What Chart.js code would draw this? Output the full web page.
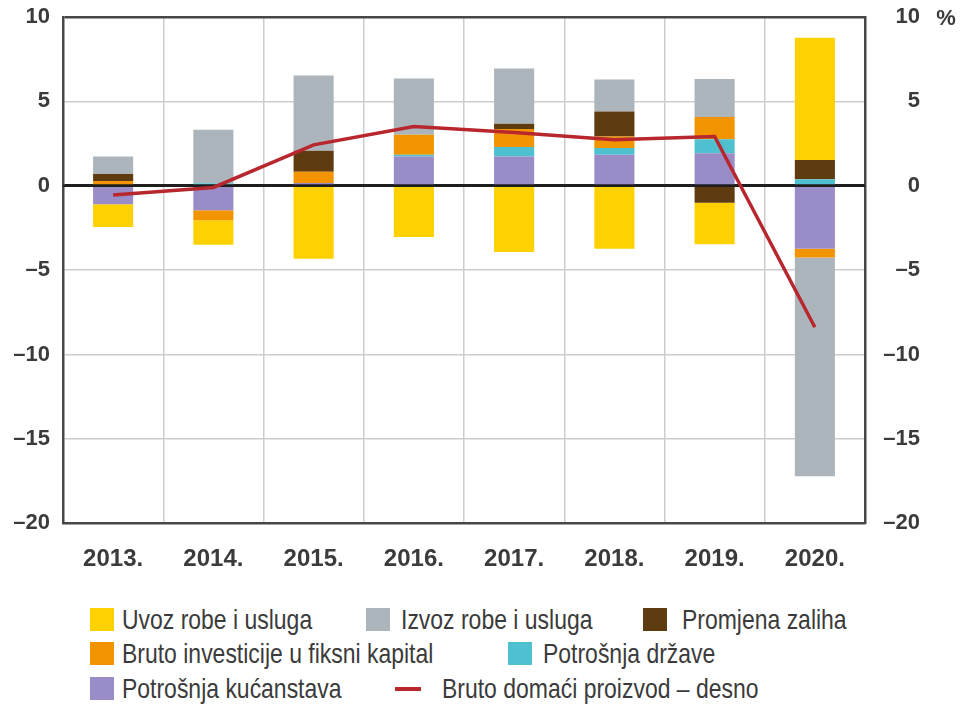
<!DOCTYPE html>
<html>
<head>
<meta charset="utf-8">
<script src="https://cdn.jsdelivr.net/npm/chart.js@4.4.1/dist/chart.umd.min.js"></script>
<style>
  html, body { margin: 0; padding: 0; background: #fff; }
  body {
    width: 964px; height: 707px; position: relative; overflow: hidden;
    font-family: "Liberation Sans", Arial, sans-serif;
    color: #3b3b3b;
  }
  #wrap { position: absolute; left: 0; top: 0; width: 964px; height: 596px; }
  .sw { position: absolute; width: 24px; height: 23px; }
  .ln { position: absolute; width: 26px; height: 4px; }
  .tx {
    position: absolute; font-size: 28px; line-height: 32px; white-space: nowrap;
    transform: scaleX(0.82); transform-origin: 0 50%;
  }
</style>
</head>
<body>
<div id="wrap"><canvas id="chart"></canvas></div>
<div id="legend"></div>
<script>
const YEARS = ["2013.", "2014.", "2015.", "2016.", "2017.", "2018.", "2019.", "2020."];

const KUCANSTVA = [-1.09, -1.45, 0.16, 1.73, 1.73, 1.83, 1.93, -3.73];
const DRZAVA = [0, 0.15, 0, 0.1, 0.56, 0.4, 0.83, 0.38];
const INVESTICIJE = [0.28, -0.6, 0.67, 1.19, 1.07, 0.69, 1.31, -0.53];
const ZALIHE = [0.42, 0, 1.25, 0, 0.31, 1.48, -1.01, 1.15];
const IZVOZ = [1.03, 3.17, 4.45, 3.33, 3.28, 1.89, 2.26, -12.96];
const UVOZ = [-1.35, -1.45, -4.32, -3.04, -3.93, -3.73, -2.46, 7.24];
const BDP = [-0.55, -0.1, 2.42, 3.51, 3.15, 2.72, 2.92, -8.39];

const Y_TICKS = [-20, -15, -10, -5, 0, 5, 10];

const FONT = "'Liberation Sans', Arial, sans-serif";
const TEXT = "#3b3b3b";
const FRAME = "#474747";
const GRID = "#cdcdcd";

// legend layout: [label, swatch left, text left, row centre]
const LEGEND_LAYOUT = [
  ["Uvoz robe i usluga", 90, 122, 620],
  ["Izvoz robe i usluga", 366, 401, 620],
  ["Promjena zaliha", 643, 682, 620],
  ["Bruto investicije u fiksni kapital", 90, 122, 654],
  ["Potrošnja države", 508, 543, 654],
  ["Potrošnja kućanstava", 90, 122, 689],
  ["Bruto domaći proizvod – desno", 395, 442, 689],
];

function bar(label, data, color) {
  return {
    type: "bar", label, data, backgroundColor: color,
    stack: "s", order: 1, barPercentage: 0.4, categoryPercentage: 1,
    borderWidth: 0, yAxisID: "y",
  };
}

const datasets = [
  bar("Potrošnja kućanstava", KUCANSTVA, "#9a8cc6"),
  bar("Potrošnja države", DRZAVA, "#4fc0cf"),
  bar("Bruto investicije u fiksni kapital", INVESTICIJE, "#f29400"),
  bar("Promjena zaliha", ZALIHE, "#5e3c10"),
  bar("Izvoz robe i usluga", IZVOZ, "#adb5bc"),
  bar("Uvoz robe i usluga", UVOZ, "#ffd100"),
  {
    type: "line", label: "Bruto domaći proizvod – desno", data: BDP,
    borderColor: "#b8262e", backgroundColor: "#b8262e", borderWidth: 3.5,
    pointRadius: 0, tension: 0, order: 0, yAxisID: "y2",
  },
];

const tickLabel = (v) => (v < 0 ? "–" + Math.abs(v) : String(v));

function fixY(width) {
  return (s) => {
    s.width = width;
    s.paddingTop = 0;
    s.paddingBottom = 0;
  };
}

// zero line sits above the bars but under the GDP line
const zeroLine = {
  id: "zeroLine",
  beforeDatasetDraw(chart, args) {
    if (args.meta.type !== "line") return;
    const { ctx, chartArea } = chart;
    const y = chart.scales.y.getPixelForValue(0);
    ctx.save();
    ctx.strokeStyle = "#1e1e1e";
    ctx.lineWidth = 2.5;
    ctx.beginPath();
    ctx.moveTo(chartArea.left, y);
    ctx.lineTo(chartArea.right, y);
    ctx.stroke();
    ctx.restore();
  },
  afterDraw(chart) {
    const { ctx } = chart;
    const y = chart.scales.y2.getPixelForValue(10);
    ctx.save();
    ctx.fillStyle = TEXT;
    ctx.font = "bold 22px " + FONT;
    ctx.textAlign = "center";
    ctx.textBaseline = "middle";
    ctx.fillText("%", 946, y + 2);
    ctx.restore();
  },
};

function init() {
  const ctx = document.getElementById("chart").getContext("2d");
  const chart = new Chart(ctx, {
    data: { labels: YEARS, datasets },
    options: {
      responsive: true,
      maintainAspectRatio: false,
      animation: false,
      layout: { padding: { top: 17, left: 0, right: 44, bottom: 0 } },
      plugins: { legend: { display: false }, tooltip: { enabled: false } },
      scales: {
        x: {
          stacked: true,
          grid: {
            offset: true, drawTicks: false, lineWidth: 1.5,
            color: (c) => (c.index === 0 ? "rgba(0,0,0,0)" : GRID),
          },
          border: { display: true, color: FRAME, width: 2.5 },
          ticks: { color: TEXT, padding: 22, font: { family: FONT, size: 24, weight: "bold" } },
        },
        y: {
          stacked: true,
          min: -20, max: 10,
          afterBuildTicks: (s) => { s.ticks = Y_TICKS.map((v) => ({ value: v })); },
          afterFit: fixY(63),
          grid: {
            drawTicks: false,
            color: (c) => (c.tick.value === 10 ? FRAME : c.tick.value === 0 ? "#1e1e1e" : c.tick.value === -20 ? "rgba(0,0,0,0)" : GRID),
            lineWidth: (c) => (c.tick.value === 10 || c.tick.value === 0 ? 2.5 : 1.5),
          },
          border: { display: true, color: FRAME, width: 2.5 },
          ticks: { color: TEXT, padding: 13, callback: tickLabel, font: { family: FONT, size: 22, weight: "bold" } },
        },
        y2: {
          position: "right",
          min: -20, max: 10,
          afterBuildTicks: (s) => { s.ticks = Y_TICKS.map((v) => ({ value: v })); },
          afterFit: fixY(55),
          grid: { display: false, drawTicks: false },
          border: { display: true, color: FRAME, width: 2.5 },
          ticks: {
            color: TEXT, padding: 15, crossAlign: "far", callback: tickLabel,
            font: { family: FONT, size: 22, weight: "bold" },
          },
        },
      },
    },
    plugins: [zeroLine],
  });

  const box = document.getElementById("legend");
  LEGEND_LAYOUT.forEach(([label, sx, tx, cy]) => {
    const ds = chart.data.datasets.find((d) => d.label === label);
    const mark = document.createElement("div");
    if (ds.type === "line") {
      mark.className = "ln";
      mark.style.cssText = `left:${sx}px;top:${cy - 2}px;background:${ds.borderColor}`;
    } else {
      mark.className = "sw";
      mark.style.cssText = `left:${sx}px;top:${cy - 12}px;background:${ds.backgroundColor}`;
    }
    const t = document.createElement("div");
    t.className = "tx";
    t.style.cssText = `left:${tx}px;top:${cy - 16}px`;
    t.textContent = label;
    box.appendChild(mark);
    box.appendChild(t);
  });
}

document.addEventListener("DOMContentLoaded", init);
</script>
</body>
</html>
